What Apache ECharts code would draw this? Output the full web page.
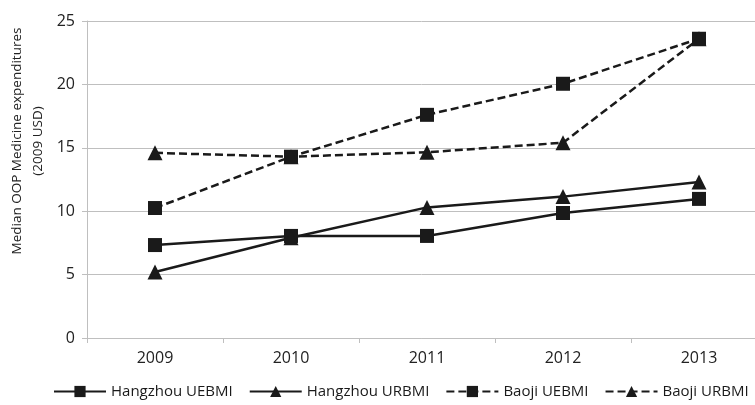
<!DOCTYPE html>
<html>
<head>
<meta charset="utf-8">
<script src="https://cdn.jsdelivr.net/npm/echarts@6/dist/echarts.min.js"></script>
<style>html,body{margin:0;padding:0;background:#fff}#c{width:755px;height:405px}</style>
</head>
<body>
<div id="c"></div>
<script>
var categories = ['2009', '2010', '2011', '2012', '2013'];
var hangzhouUEBMI = [7.33, 8.05, 8.05, 9.86, 10.97];
var hangzhouURBMI = [5.2, 7.9, 10.3, 11.15, 12.3];
var baojiUEBMI = [10.25, 14.3, 17.6, 20.05, 23.6];
var baojiURBMI = [14.6, 14.3, 14.65, 15.4, 23.6];
var yTicks = [0, 5, 10, 15, 20, 25];
var yTitle = 'Median OOP Medicine expenditures\n(2009 USD)';

var FONT = 'Open Sans';
var INK = '#1a1a1a';
function mk(name, data, symbol, dashed) {
  return {
    name: name, type: 'line', data: data,
    symbol: symbol, symbolSize: symbol === 'rect' ? 14 : 15,
    lineStyle: { color: INK, width: 2.5, type: dashed ? [8, 4] : 'solid' },
    itemStyle: { color: INK },
    animation: false
  };
}
var chart = echarts.init(document.getElementById('c'));
chart.setOption({
  backgroundColor: '#fff',
  grid: { left: 87, right: -12, top: 21, bottom: 67, containLabel: false, outerBoundsMode: 'none' },
  legend: {
    bottom: 1, left: 48, width: 760, itemGap: 16, itemWidth: 52, itemHeight: 14,
    textStyle: { fontFamily: FONT, fontSize: 15, color: '#1a1a1a' },
    data: ['Hangzhou UEBMI', 'Hangzhou URBMI', 'Baoji UEBMI', 'Baoji URBMI']
  },
  graphic: [{
    type: 'text', x: 28, y: 141, rotation: Math.PI / 2,
    style: { text: yTitle, fontFamily: FONT, fontSize: 13.5, lineHeight: 21, fill: '#222', align: 'center', verticalAlign: 'middle' }
  }],
  xAxis: {
    type: 'category', data: categories, boundaryGap: true,
    axisLine: { lineStyle: { color: '#bfbfbf', width: 1 } },
    axisTick: { show: true, length: 5, lineStyle: { color: '#bfbfbf' } },
    axisLabel: { fontFamily: FONT, fontSize: 16, color: '#222', margin: 12 }
  },
  yAxis: {
    type: 'value', min: yTicks[0], max: yTicks[yTicks.length - 1], interval: 5,
    axisLine: { show: true, lineStyle: { color: '#bfbfbf', width: 1 } },
    axisTick: { show: true, length: 5, inside: false, lineStyle: { color: '#bfbfbf' } },
    axisLabel: { fontFamily: FONT, fontSize: 16, color: '#222', margin: 12 },
    splitLine: { lineStyle: { color: '#bfbfbf', width: 1 } }
  },
  series: [
    mk('Hangzhou UEBMI', hangzhouUEBMI, 'rect', false),
    mk('Hangzhou URBMI', hangzhouURBMI, 'triangle', false),
    mk('Baoji UEBMI', baojiUEBMI, 'rect', true),
    mk('Baoji URBMI', baojiURBMI, 'triangle', true)
  ]
});
</script>
</body>
</html>
